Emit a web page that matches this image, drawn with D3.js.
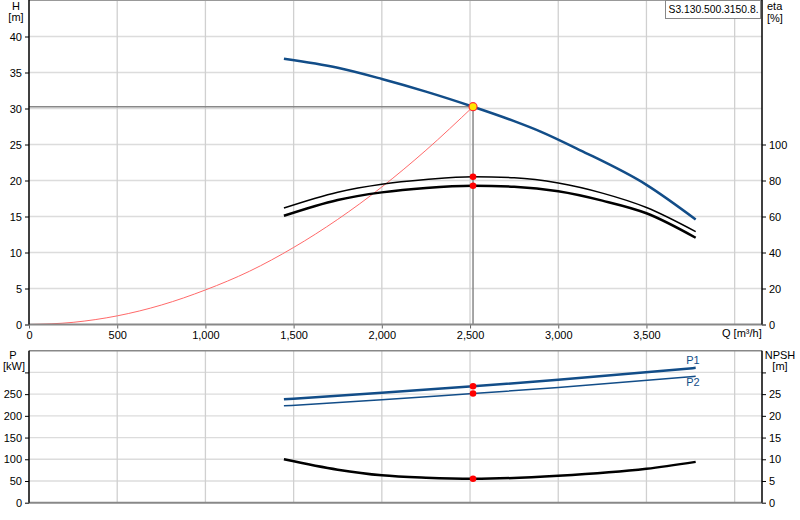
<!DOCTYPE html>
<meta charset='utf-8'>
<style>
    body { margin: 0; background: #fff; }
    svg { font-family: 'Liberation Sans', Arial, sans-serif; font-size: 11px; }
</style>
<body>
    <script src='https://d3js.org/d3.v7.min.js'></script>
    <script>
        var width = 800,
            height = 520;

        // pump curve data
        var flowH = [1445, 1750, 2000, 2250, 2517, 2750, 2900, 3125, 3500, 3779];
        var head = [36.9, 35.65, 34.1, 32.35, 30.25, 28.25, 26.8, 24.2, 19.4, 14.6];

        var flowE = [1445, 1750, 2000, 2250, 2517, 2750, 3000, 3250, 3500, 3779];
        var eta1 = [64.7, 73.5, 77.9, 80.5, 82.1, 81.5, 78.6, 73.0, 65.0, 51.6];
        var eta2 = [60.4, 69.2, 73.4, 75.9, 77.1, 76.5, 74.0, 68.8, 61.8, 48.2];

        var flowS = [0, 250, 500, 750, 1000, 1250, 1500, 1750, 2000, 2250, 2517];
        var sysH = [0, 0.3, 1.2, 2.7, 4.8, 7.4, 10.7, 14.6, 19.1, 24.2, 30.25];

        var flowP = [1445, 2000, 2517, 3000, 3779];
        var p1 = [238, 253, 268, 283, 310.5];
        var p2 = [223, 237, 251.5, 265, 291];

        var flowN = [1445, 1750, 2000, 2250, 2517, 3000, 3500, 3779];
        var npsh = [10.0, 7.6, 6.3, 5.75, 5.5, 6.2, 7.8, 9.4];

        // duty point
        var dutyQ = 2517, dutyH = 30.25, dutyEta = [82.1, 77.1], dutyP = [268, 251.5], dutyN = 5.5;

        var xTicks = [0, 500, 1000, 1500, 2000, 2500, 3000, 3500];
        var hTicks = [0, 5, 10, 15, 20, 25, 30, 35, 40];
        var etaTicks = [0, 20, 40, 60, 80, 100];
        var pTicks = [0, 50, 100, 150, 200, 250, 300];
        var nTicks = [0, 5, 10, 15, 20, 25, 30];

        var svg = d3.select('body').append('svg')
            .attr('width', width)
            .attr('height', height);

        var x = d3.scaleLinear().domain([0, 4155]).range([29, 762]);
        var yH = d3.scaleLinear().domain([0, 45]).range([324.5, 0.5]);
        var yEta = d3.scaleLinear().domain([0, 180]).range([324.5, 0.5]);
        var yP = d3.scaleLinear().domain([0, 350]).range([502.7, 350.7]);
        var yN = d3.scaleLinear().domain([0, 35]).range([502.7, 350.7]);

        function grid(yScale, ticks, y0, y1) {
            var g = svg.append('g');
            g.selectAll('.h').data(ticks.filter(function(d) { return d > 0; })).enter().append('line')
                .attr('x1', x(0)).attr('x2', x.range()[1])
                .attr('y1', yScale).attr('y2', yScale)
                .attr('stroke', '#dcdcdc').attr('stroke-width', 1.3);
            g.selectAll('.v').data(xTicks.concat([4000]).filter(function(d) { return d > 0; })).enter().append('line')
                .attr('x1', x).attr('x2', x)
                .attr('y1', y0).attr('y2', y1)
                .attr('stroke', '#d0d0d0').attr('stroke-width', 1.3);
        }

        grid(yH, hTicks, 0, 324.5);
        grid(yP, pTicks, 350.7, 502.7);

        // frames
        svg.append('line').attr('x1', 29).attr('x2', 762).attr('y1', 0.5).attr('y2', 0.5)
            .attr('stroke', '#999');
        svg.append('line').attr('x1', 29).attr('x2', 762).attr('y1', 350.7).attr('y2', 350.7)
            .attr('stroke', '#888').attr('stroke-width', 1.5);

        // duty point guide lines
        svg.append('line').attr('x1', x(0)).attr('x2', x(dutyQ)).attr('y1', yH(dutyH)).attr('y2', yH(dutyH))
            .attr('stroke', '#888').attr('stroke-width', 1.5);
        svg.append('line').attr('x1', x(dutyQ)).attr('x2', x(dutyQ)).attr('y1', yH(dutyH)).attr('y2', yH(0))
            .attr('stroke', '#888').attr('stroke-width', 1.5);

        function curve(xs, ys, yScale, color, w) {
            var line = d3.line()
                .x(function(d) { return x(d[0]); })
                .y(function(d) { return yScale(d[1]); })
                .curve(d3.curveMonotoneX);
            svg.append('path')
                .datum(d3.zip(xs, ys))
                .attr('d', line)
                .attr('fill', 'none')
                .attr('stroke', color)
                .attr('stroke-width', w);
        }

        curve(flowS, sysH, yH, '#ff6a6a', 1);
        curve(flowE, eta1, yEta, '#000', 1.5);
        curve(flowE, eta2, yEta, '#000', 2.5);
        curve(flowH, head, yH, '#124d88', 2.5);
        curve(flowP, p2, yP, '#124d88', 1.5);
        curve(flowP, p1, yP, '#124d88', 2.5);
        curve(flowN, npsh, yN, '#000', 2.5);

        // axes
        var axisH = d3.axisLeft(yH).tickValues(hTicks).tickSize(4).tickPadding(3);
        var axisEta = d3.axisRight(yEta).tickValues(etaTicks).tickSize(4).tickPadding(3);
        var axisX = d3.axisBottom(x).tickValues(xTicks).tickSize(4).tickPadding(3).tickFormat(d3.format(','));
        var axisP = d3.axisLeft(yP).tickValues(pTicks).tickSize(4).tickPadding(3)
            .tickFormat(function(d) { return d === 300 ? '' : d; });
        var axisN = d3.axisRight(yN).tickValues(nTicks).tickSize(4).tickPadding(3)
            .tickFormat(function(d) { return d === 30 ? '' : d; });

        function styleAxis(g, color) {
            g.selectAll('text').attr('font-size', 11).attr('font-family', 'Liberation Sans, Arial, sans-serif').attr('fill', '#000');
            g.select('.domain').attr('stroke', color).attr('stroke-width', 1.5);
            g.selectAll('.tick line').attr('stroke', '#000');
        }

        var gx = svg.append('g').attr('transform', 'translate(0,324.5)').call(axisX);
        gx.select('.domain').remove();
        gx.append('line').attr('x1', 29).attr('x2', 762).attr('stroke', '#888').attr('stroke-width', 2);
        styleAxis(gx, '#888');
        gx.selectAll('.tick line').attr('stroke', '#666');

        var gxb = svg.append('g').attr('transform', 'translate(0,502.7)');
        gxb.append('line').attr('x1', 29).attr('x2', 762).attr('stroke', '#888').attr('stroke-width', 2);

        var gh = svg.append('g').attr('transform', 'translate(29,0)').call(axisH);
        gh.select('.domain').attr('d', 'M0,0V324.5');
        styleAxis(gh, '#000');
        var ge = svg.append('g').attr('transform', 'translate(762,0)').call(axisEta);
        ge.select('.domain').attr('d', 'M0,0V324.5');
        styleAxis(ge, '#000');
        var gp = svg.append('g').attr('transform', 'translate(29,0)').call(axisP);
        gp.select('.domain').attr('d', 'M0,350.7V502.7');
        styleAxis(gp, '#000');
        var gn = svg.append('g').attr('transform', 'translate(762,0)').call(axisN);
        gn.select('.domain').attr('d', 'M0,350.7V502.7');
        styleAxis(gn, '#000');

        // duty point markers
        var dots = [[dutyEta[0], yEta], [dutyEta[1], yEta], [dutyP[0], yP], [dutyP[1], yP], [dutyN, yN]];
        svg.selectAll('.dot').data(dots).enter().append('circle')
            .attr('cx', x(dutyQ))
            .attr('cy', function(d) { return d[1](d[0]); })
            .attr('r', 3.3)
            .attr('fill', '#ff0000');
        svg.append('circle').attr('cx', x(dutyQ)).attr('cy', yH(dutyH)).attr('r', 4)
            .attr('fill', '#ffe600').attr('stroke', '#ff3030').attr('stroke-width', 1.2);

        // labels
        function label(t, px, py, anchor, color) {
            return svg.append('text').attr('x', px).attr('y', py).attr('text-anchor', anchor || 'middle')
                .attr('fill', color || '#000').text(t);
        }
        label('H', 16, 10);
        label('[m]', 16, 21);
        label('eta', 767, 10, 'start');
        label('[%]', 767, 22, 'start');
        label('P', 13, 359);
        label('[kW]', 14, 370);
        label('NPSH', 780, 359);
        label('[m]', 780, 370);
        label('Q [m\u00b3/h]', 722, 337, 'start');
        label('P1', 693, 364, 'middle', '#124d88');
        label('P2', 693, 386, 'middle', '#124d88');

        svg.append('rect').attr('x', 665.5).attr('y', 0.5).attr('width', 95).attr('height', 18)
            .attr('fill', '#fff').attr('stroke', '#888');
        label('S3.130.500.3150.8.', 668.5, 13, 'start')
            .attr('textLength', 90).attr('lengthAdjust', 'spacingAndGlyphs');
    </script>
</body>
